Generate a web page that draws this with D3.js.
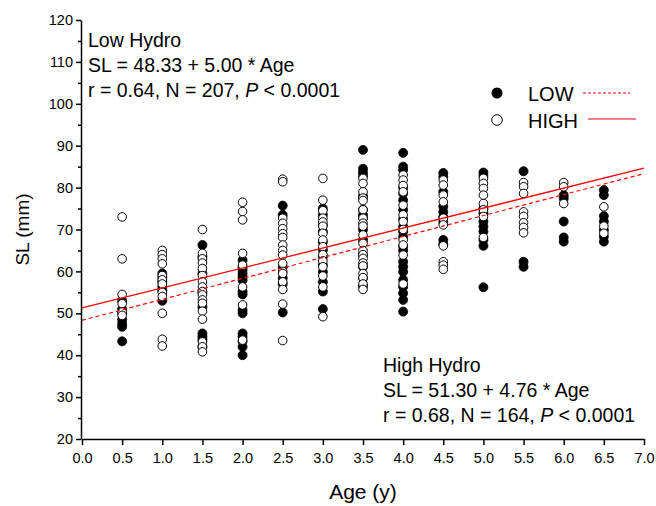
<!DOCTYPE html>
<html>
<head>
<meta charset="utf-8">
<script src="https://cdn.jsdelivr.net/npm/d3@7"></script>
<style>
  body { margin: 0; background: #fff; }
  text { font-family: Arial, "Liberation Sans", sans-serif; fill: #000; }
</style>
</head>
<body>
<div id="chart"></div>
<script>
// Ages (x positions of the sample columns)
const ages = [0.5, 1.0, 1.5, 2.0, 2.5, 3.0, 3.5, 4.0, 4.5, 5.0, 5.5, 6.0, 6.5];

// Low hydro (filled) SL values per age column
const lowValues = [
  [53, 51, 50, 48.5, 47.5, 46.8, 43.3],
  [59.5, 58.5, 57.5, 56.3, 55.5, 53],
  [66.3, 63.5, 59.5, 55, 51.5, 45.2, 44.4, 43.7, 42],
  [62.7, 61, 60.3, 59.5, 58.7, 57.9, 55.2, 54.5, 50.8, 50, 45.2, 44.4, 43.3, 42, 40],
  [75.7, 73.5, 61, 58.4, 57, 50.2],
  [75, 73.5, 71, 69.5, 67, 65.1, 63.5, 61.5, 59.9, 57.5, 55.2, 51],
  [89, 84.5, 83.6, 82.8, 78, 74.7, 73.5, 72.7, 70, 67.5, 64, 61.1, 58.4, 56.5],
  [88.3, 85, 84.2, 80, 78.6, 77, 74.7, 72.5, 70.7, 69.5, 68.3, 66, 65, 62.3, 61.1, 59.9, 58, 56.3, 54.8, 53.2, 50.4],
  [83.5, 82.6, 79, 75.5, 74.2, 73, 71.8, 67.5, 66.5],
  [83.6, 82.8, 75, 73.9, 71.9, 70.7, 69.5, 67.5, 66.1, 56.2],
  [83.9, 62.3, 61.1],
  [78.2, 77.4, 71.9, 68.1, 67.1],
  [79.4, 78.2, 73.2, 71.9, 69.9, 68.3, 67.1]
];

// High hydro (open) SL values per age column
const highValues = [
  [73, 63, 54.5, 52.3, 50.3, 49.5],
  [65, 64, 63, 61.8, 59, 58, 57, 55, 54, 50, 43.8, 42.2],
  [70, 64.3, 63, 62, 60.7, 59, 57.5, 56.3, 55.2, 54.4, 53.2, 52.4, 50.5, 48.6, 43.2, 42, 40.8],
  [76.5, 74.3, 72.3, 64.3, 61.5, 56.3, 52, 43.6],
  [82, 81.4, 72.7, 71.5, 70.2, 69, 68.1, 66.3, 65, 63.9, 61.9, 60, 59.5, 57.5, 55.7, 52.2, 43.5],
  [82.2, 77, 74.5, 72.7, 71.8, 70.8, 69.1, 67.5, 65.9, 64, 62.5, 61.1, 58.9, 56.3, 49.2],
  [82.2, 81, 79, 77.5, 76.9, 74.7, 72.7, 71.5, 70.8, 68.7, 66.7, 65, 64, 63.1, 62, 61.3, 59.5, 58.5, 57, 55.7],
  [83, 81.8, 80.5, 79, 75.8, 73.5, 71.9, 70, 67.5, 66.3, 63.9, 57],
  [81.8, 80.6, 78.2, 76.6, 72.7, 71.1, 66.1, 62.3, 61.5, 60.5],
  [82.2, 81, 79.8, 78.2, 76.2, 74.7, 73.1, 68.1],
  [81.2, 80.2, 78.6, 74.2, 73.1, 71.6, 70.5, 69.2],
  [81.2, 80.2, 76.2],
  [75.4, 70.8, 69.1]
];

// Regression fits: [intercept, slope]
const lowFit = [48.33, 5.00];
const highFit = [51.30, 4.76];

// Axis ticks
const xTicks = [0, 0.5, 1, 1.5, 2, 2.5, 3, 3.5, 4, 4.5, 5, 5.5, 6, 6.5, 7];
const yTicks = [20, 30, 40, 50, 60, 70, 80, 90, 100, 110, 120];
const yMinorTicks = [25, 35, 45, 55, 65, 75, 85, 95, 105, 115];

const W = 656, H = 506;

const svg = d3.select("#chart")
  .append("svg")
  .attr("width", W)
  .attr("height", H);

// Scales
const x = d3.scaleLinear().domain([0, 7]).range([82, 644]);
const y = d3.scaleLinear().domain([20, 120]).range([439, 20]);

const lowPoints = ages.flatMap((a, i) => lowValues[i].map(v => ({ age: a, sl: v })));
const highPoints = ages.flatMap((a, i) => highValues[i].map(v => ({ age: a, sl: v })));

// Low hydro points (filled)
svg.append("g")
  .selectAll("circle")
  .data(lowPoints)
  .enter()
  .append("circle")
  .attr("cx", d => x(d.age))
  .attr("cy", d => y(d.sl))
  .attr("r", 4.5)
  .attr("fill", "#000")
  .attr("stroke", "#000")
  .attr("stroke-width", 0.8);

// High hydro points (open)
svg.append("g")
  .selectAll("circle")
  .data(highPoints)
  .enter()
  .append("circle")
  .attr("cx", d => x(d.age))
  .attr("cy", d => y(d.sl))
  .attr("r", 4.3)
  .attr("fill", "#fff")
  .attr("stroke", "#000")
  .attr("stroke-width", 1);

// Regression lines
const fitLine = fit => d3.line()
  .x(d => x(d))
  .y(d => y(fit[0] + fit[1] * d));

svg.append("path")
  .datum([0, 7])
  .attr("fill", "none")
  .attr("stroke", "#ff0000")
  .attr("stroke-width", 1.2)
  .attr("stroke-dasharray", "4,3")
  .attr("d", fitLine(lowFit));

svg.append("path")
  .datum([0, 7])
  .attr("fill", "none")
  .attr("stroke", "#ff0000")
  .attr("stroke-width", 1.3)
  .attr("d", fitLine(highFit));

// Y axis
const yAxis = svg.append("g")
  .attr("transform", `translate(${x(0) - 1},0)`)
  .call(d3.axisLeft(y).tickValues(yTicks).tickSize(5).tickSizeOuter(0).tickPadding(3).tickFormat(d3.format("d")));

svg.append("g")
  .attr("transform", `translate(${x(0) - 1},0)`)
  .call(d3.axisLeft(y).tickValues(yMinorTicks).tickSize(3).tickSizeOuter(0).tickFormat(""))
  .select(".domain").remove();

// X axis
const xAxis = svg.append("g")
  .attr("transform", `translate(0,${y(20)})`)
  .call(d3.axisBottom(x).tickValues(xTicks).tickSize(6).tickSizeOuter(0).tickPadding(8).tickFormat(d3.format(".1f")));

svg.selectAll(".domain, .tick line")
  .attr("stroke", "#000")
  .attr("stroke-width", 1.5);

yAxis.selectAll("text").attr("font-size", "14.5px").attr("font-family", "Arial, 'Liberation Sans', sans-serif");
xAxis.selectAll("text").attr("font-size", "14.5px").attr("font-family", "Arial, 'Liberation Sans', sans-serif");

// Axis titles
svg.append("text")
  .attr("x", (x(0) + x(7)) / 2)
  .attr("y", 499)
  .attr("text-anchor", "middle")
  .attr("font-size", "21px")
  .text("Age (y)");

svg.append("text")
  .attr("transform", `translate(29,${(y(20) + y(120)) / 2}) rotate(-90)`)
  .attr("text-anchor", "middle")
  .attr("font-size", "19px")
  .text("SL (mm)");

// Annotations
function annotate(x0, y0, title, eq, stats) {
  const g = svg.append("g").attr("font-size", "19.5px");
  g.append("text").attr("x", x0).attr("y", y0).text(title);
  g.append("text").attr("x", x0).attr("y", y0 + 25).text(eq);
  const t = g.append("text").attr("x", x0).attr("y", y0 + 50);
  t.append("tspan").text(stats);
  t.append("tspan").attr("font-style", "italic").text("P");
  t.append("tspan").text(" < 0.0001");
}
annotate(88, 47, "Low Hydro", "SL = 48.33 + 5.00 * Age", "r = 0.64, N = 207, ");
annotate(383, 372, "High Hydro", "SL = 51.30 + 4.76 * Age", "r = 0.68, N = 164, ");

// Legend
const legend = svg.append("g").attr("font-size", "20px");
legend.append("circle").attr("cx", 497).attr("cy", 93).attr("r", 5.5).attr("fill", "#000");
legend.append("text").attr("x", 528).attr("y", 101).text("LOW");
legend.append("line").attr("x1", 583).attr("x2", 630).attr("y1", 93).attr("y2", 93)
  .attr("stroke", "#ff0000").attr("stroke-width", 1).attr("stroke-dasharray", "3,2");
legend.append("circle").attr("cx", 497).attr("cy", 120).attr("r", 5.3).attr("fill", "#fff")
  .attr("stroke", "#000").attr("stroke-width", 1);
legend.append("text").attr("x", 528).attr("y", 128).text("HIGH");
legend.append("line").attr("x1", 588).attr("x2", 636).attr("y1", 119).attr("y2", 119)
  .attr("stroke", "#ff0000").attr("stroke-width", 1.2);
</script>
</body>
</html>
